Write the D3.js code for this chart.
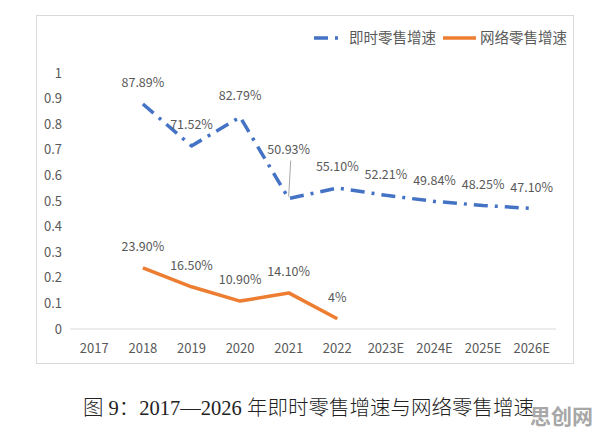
<!DOCTYPE html>
<html>
<head>
<meta charset="utf-8">
<script src="https://cdn.jsdelivr.net/npm/d3@7"></script>
<style>
  body { margin: 0; background: #fff; }
  text { font-family: "Noto Sans CJK SC", "Noto Sans", sans-serif; }
</style>
</head>
<body>
<script>
// data
const years = ["2017", "2018", "2019", "2020", "2021", "2022", "2023E", "2024E", "2025E", "2026E"];
const instantGrowth = [null, 0.8789, 0.7152, 0.8279, 0.5093, 0.5510, 0.5221, 0.4984, 0.4825, 0.4710];
const instantLabels = ["", "87.89%", "71.52%", "82.79%", "50.93%", "55.10%", "52.21%", "49.84%", "48.25%", "47.10%"];
const onlineGrowth = [null, 0.239, 0.165, 0.109, 0.141, 0.04, null, null, null, null];
const onlineLabels = ["", "23.90%", "16.50%", "10.90%", "14.10%", "4%", "", "", "", ""];
const yTicks = [0, 0.1, 0.2, 0.3, 0.4, 0.5, 0.6, 0.7, 0.8, 0.9, 1];
const seriesNames = ["即时零售增速", "网络零售增速"];
const caption = "图 9：2017—2026 年即时零售增速与网络零售增速";

const W = 596, H = 431;
const blue = "#4472C4", orange = "#ED7D31", grey = "#595959";

const svg = d3.select("body").append("svg")
    .attr("width", W)
    .attr("height", H);

// chart frame
svg.append("rect")
    .attr("x", 36.5).attr("y", 15.5)
    .attr("width", 537).attr("height", 348)
    .attr("fill", "#fff")
    .attr("stroke", "#d9d9d9");

const x = d3.scaleBand().domain(years).range([70, 556]);
const y = d3.scaleLinear().domain([0, 1]).range([329, 73]);
const cx = d => x(d) + x.bandwidth() / 2;

// axis line along zero
svg.append("line")
    .attr("x1", 70).attr("x2", 556)
    .attr("y1", y(0)).attr("y2", y(0))
    .attr("stroke", "#d9d9d9");

// y tick labels (no axis line)
svg.selectAll(".ytick").data(yTicks).enter().append("text")
    .attr("class", "ytick")
    .attr("x", 62)
    .attr("y", d => y(d))
    .attr("dy", "0.35em")
    .attr("text-anchor", "end")
    .attr("font-size", 13)
    .attr("fill", grey)
    .text(d => d3.format("~g")(d));

// x tick labels
svg.selectAll(".xtick").data(years).enter().append("text")
    .attr("class", "xtick")
    .attr("x", d => cx(d))
    .attr("y", 348)
    .attr("dy", "0.35em")
    .attr("text-anchor", "middle")
    .attr("font-size", 13)
    .attr("fill", grey)
    .text(d => d);

const line = d3.line()
    .defined(d => d[1] != null)
    .x(d => cx(d[0]))
    .y(d => y(d[1]));

function drawSeries(values, labels, color, dash) {
    const pts = years.map((yr, i) => [yr, values[i], labels[i]]);
    svg.append("path")
        .datum(pts)
        .attr("d", line)
        .attr("fill", "none")
        .attr("stroke", color)
        .attr("stroke-width", 3.5)
        .attr("stroke-linejoin", "round")
        .attr("stroke-dasharray", dash);

    const withVal = pts.filter(d => d[1] != null);
    svg.selectAll(null).data(withVal).enter().append("text")
        .attr("x", d => cx(d[0]))
        // 2021 label on the blue line sits higher, with a leader line
        .attr("y", d => y(d[1]) - (dash && d[0] === "2021" ? 49 : 21))
        .attr("dy", "0.35em")
        .attr("text-anchor", "middle")
        .attr("font-size", 12.5)
        .attr("fill", grey)
        .text(d => d[2]);
}

drawSeries(onlineGrowth, onlineLabels, orange, null);
drawSeries(instantGrowth, instantLabels, blue, "14,7,3,7");

// leader line for 50.93%
const iLead = years.indexOf("2021");
svg.append("line")
    .attr("x1", cx("2021") + 2).attr("y1", y(instantGrowth[iLead]) - 38)
    .attr("x2", cx("2021")).attr("y2", y(instantGrowth[iLead]) - 2)
    .attr("stroke", "#a6a6a6")
    .attr("stroke-width", 1);

// legend
const lg = svg.append("g").attr("transform", "translate(0,38)");
lg.append("line")
    .attr("x1", 314).attr("x2", 342).attr("y1", 0).attr("y2", 0)
    .attr("stroke", blue).attr("stroke-width", 3.5)
    .attr("stroke-dasharray", "14,7,3,7");
lg.append("text")
    .attr("x", 349).attr("y", 0).attr("dy", "0.35em")
    .attr("font-size", 14.5).attr("fill", grey)
    .text(seriesNames[0]);
lg.append("line")
    .attr("x1", 443).attr("x2", 476).attr("y1", 0).attr("y2", 0)
    .attr("stroke", orange).attr("stroke-width", 3.5);
lg.append("text")
    .attr("x", 480).attr("y", 0).attr("dy", "0.35em")
    .attr("font-size", 14.5).attr("fill", grey)
    .text(seriesNames[1]);

// caption under the chart
svg.append("text")
    .attr("x", 83).attr("y", 408)
    .attr("dy", "0.35em")
    .attr("font-size", 20.5)
    .attr("font-weight", 300)
    .attr("fill", "#222")
    .style("font-family", "'Liberation Serif', 'Noto Sans CJK SC', serif")
    .text(caption);

// site watermark
svg.append("text")
    .attr("x", 530).attr("y", 417)
    .attr("dy", "0.35em")
    .attr("font-size", 21)
    .attr("font-weight", "bold")
    .attr("fill", "#a0a0a0")
    .attr("opacity", 0.92)
    .text("思创网");
</script>
</body>
</html>
